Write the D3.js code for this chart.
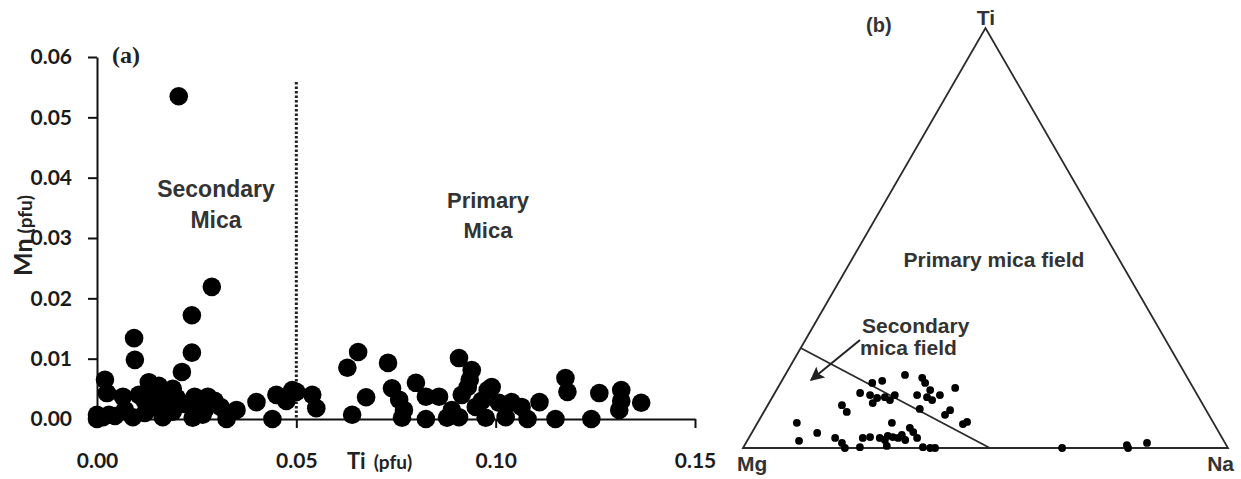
<!DOCTYPE html>
<html>
<head>
<meta charset="utf-8">
<script src="https://cdn.jsdelivr.net/npm/d3@7"></script>
<style>
body { margin: 0; background: #fff; }
svg { display: block; }
.tick text { font-family: Lato, "Open Sans", sans-serif; font-weight: bold; font-size: 21px; fill: #1a1a1a; }
.lbl { font-family: "Liberation Sans", Arial, sans-serif; font-weight: bold; fill: #333; }
</style>
</head>
<body>
<div id="chart"></div>
<script>
// panel (a): Ti vs Mn (pfu)
var tiA = [0.0205, 0.0288, 0.0238, 0.0238, 0.0213, 0.0093, 0.0095, 0.0020, 0.0025, 0.0065,
	0.0130, 0.0160, 0.0190, 0.0120, 0.0160, 0.0178, 0.0138, 0.0170, 0.0245, 0.0278,
	0.0295, 0.0253, 0.0000, 0.0000, 0.0030, 0.0045, 0.0090, 0.0165, 0.0240, 0.0265,
	0.0325, 0.0350, 0.0400, 0.0440, 0.0450, 0.0475, 0.0490, 0.0500, 0.0105, 0.0200,
	0.0145, 0.0070, 0.0120, 0.0190, 0.0220, 0.0155, 0.0180, 0.0270, 0.0310, 0.0015,
	0.0540, 0.0550, 0.0640, 0.0628, 0.0655, 0.0675, 0.0730, 0.0740, 0.0758, 0.0770,
	0.0765, 0.0800, 0.0825, 0.0825, 0.0858, 0.0890, 0.0878, 0.0908, 0.0940, 0.0915,
	0.0930, 0.0908, 0.0965, 0.0980, 0.0975, 0.0990, 0.1008, 0.1040, 0.1065, 0.1110,
	0.1080, 0.1025, 0.1175, 0.1180, 0.1150, 0.1260, 0.1240, 0.1315, 0.1310, 0.1315,
	0.1365, 0.0935, 0.0950];
var mnA = [0.0535, 0.0219, 0.0172, 0.0110, 0.0078, 0.0134, 0.0098, 0.0065, 0.0043, 0.0037,
	0.0061, 0.0048, 0.0050, 0.0030, 0.0030, 0.0030, 0.0020, 0.0020, 0.0037, 0.0037,
	0.0030, 0.0020, 0.0007, 0.0000, 0.0007, 0.0005, 0.0003, 0.0003, 0.0002, 0.0007,
	0.0000, 0.0015, 0.0028, 0.0000, 0.0040, 0.0030, 0.0048, 0.0045, 0.0040, 0.0035,
	0.0040, 0.0015, 0.0010, 0.0012, 0.0025, 0.0055, 0.0040, 0.0015, 0.0020, 0.0003,
	0.0040, 0.0018, 0.0007, 0.0085, 0.0111, 0.0036, 0.0093, 0.0051, 0.0032, 0.0015,
	0.0002, 0.0060, 0.0037, 0.0000, 0.0037, 0.0015, 0.0002, 0.0101, 0.0081, 0.0040,
	0.0053, 0.0003, 0.0030, 0.0048, 0.0002, 0.0053, 0.0027, 0.0028, 0.0020, 0.0028,
	0.0000, 0.0003, 0.0068, 0.0045, 0.0000, 0.0043, 0.0000, 0.0048, 0.0015, 0.0030,
	0.0027, 0.0065, 0.0020];
var xTicksA = [0, 0.05, 0.10, 0.15];
var yTicksA = [0, 0.01, 0.02, 0.03, 0.04, 0.05, 0.06];
var tiBoundary = 0.05;

// panel (b): ternary Mg - Ti - Na (fractions, Mg = 1 - Ti - Na)
var tiB = [0.174, 0.155, 0.160, 0.167, 0.155, 0.138, 0.121, 0.126, 0.126, 0.143,
	0.131, 0.126, 0.119, 0.121, 0.114, 0.126, 0.107, 0.114, 0.102, 0.086,
	0.093, 0.090, 0.079, 0.062, 0.057, 0.060, 0.060, 0.017, 0.036, 0.024,
	0.012, 0.000, 0.002, 0.024, 0.026, 0.019, 0.026, 0.024, 0.031, 0.005,
	0.048, 0.038, 0.024, 0.002, 0.000, 0.000, 0.000, 0.007, 0.000, 0.012,
	0.024, 0.029, 0.019];
var naB = [0.247, 0.189, 0.207, 0.286, 0.298, 0.317, 0.319, 0.296, 0.343, 0.366,
	0.176, 0.199, 0.217, 0.232, 0.246, 0.250, 0.214, 0.333, 0.153, 0.171,
	0.318, 0.382, 0.377, 0.431, 0.425, 0.081, 0.277, 0.107, 0.135, 0.178,
	0.198, 0.210, 0.240, 0.235, 0.249, 0.283, 0.296, 0.308, 0.312, 0.294,
	0.320, 0.332, 0.347, 0.370, 0.386, 0.396, 0.658, 0.788, 0.794, 0.827,
	0.270, 0.284, 0.325];
// secondary / primary field divider, as [Ti, Na]
var divider = [[0.238, 0], [0, 0.509]];
var corners = [[0, 0], [1, 0], [0, 1]]; // [Ti, Na]: Mg, Ti, Na corners

var svg = d3.select("#chart").append("svg")
	.attr("width", 1241)
	.attr("height", 479);

//////////////// panel (a)
var x = d3.scaleLinear().domain([0, 0.15]).range([97, 695]);
var y = d3.scaleLinear().domain([0, 0.06]).range([419, 57]);

var gA = svg.append("g");

gA.append("g")
	.attr("transform", "translate(0,419)")
	.call(d3.axisBottom(x).tickValues(xTicksA).tickFormat(d3.format(".2f")).tickSize(9).tickPadding(25).tickSizeOuter(0))
	.call(g => g.select(".domain").attr("stroke", "#111").attr("stroke-width", 2))
	.call(g => g.selectAll(".tick line").attr("stroke", "#111").attr("stroke-width", 2));

gA.append("g")
	.attr("transform", "translate(97,0)")
	.call(d3.axisLeft(y).tickValues(yTicksA).tickFormat(d3.format(".2f")).tickSize(9).tickPadding(16).tickSizeOuter(0))
	.call(g => g.select(".domain").attr("stroke", "#111").attr("stroke-width", 2))
	.call(g => g.selectAll(".tick line").attr("stroke", "#111").attr("stroke-width", 2));

// dotted boundary
gA.append("line")
	.attr("x1", x(tiBoundary)).attr("x2", x(tiBoundary))
	.attr("y1", 82).attr("y2", y(0))
	.attr("stroke", "#222")
	.attr("stroke-width", 3)
	.attr("stroke-dasharray", "2.5,2");

gA.selectAll("circle")
	.data(tiA)
	.enter()
	.append("circle")
	.attr("cx", (d, i) => x(d))
	.attr("cy", (d, i) => y(mnA[i]))
	.attr("r", 9.3)
	.attr("fill", "#000");

gA.append("text")
	.attr("x", 112).attr("y", 63)
	.style("font-family", "'Liberation Serif', 'DejaVu Serif', serif")
	.style("font-weight", "bold")
	.style("font-size", "24px")
	.attr("fill", "#222")
	.text("(a)");

var sec = gA.append("text").attr("class", "lbl").style("font-size", "23px").attr("text-anchor", "middle");
sec.append("tspan").attr("x", 216).attr("y", 197).text("Secondary");
sec.append("tspan").attr("x", 216).attr("y", 228).text("Mica");

var pri = gA.append("text").attr("class", "lbl").style("font-size", "22px").attr("text-anchor", "middle");
pri.append("tspan").attr("x", 488).attr("y", 208).text("Primary");
pri.append("tspan").attr("x", 488).attr("y", 238).text("Mica");

var xl = gA.append("text").attr("x", 347).attr("y", 469)
	.style("font-family", "Lato, sans-serif").style("font-weight", "bold").style("fill", "#222");
xl.append("tspan").style("font-size", "22px").text("Ti");
xl.append("tspan").attr("dx", 8).style("font-size", "19px").text("(pfu)");

var yl = gA.append("text")
	.attr("transform", "translate(32,276) rotate(-90)")
	.style("font-family", "Lato, sans-serif").style("font-weight", "bold").style("fill", "#222");
yl.append("tspan").style("font-size", "25px").text("Mn");
yl.append("tspan").attr("dx", 5).style("font-size", "19px").text("(pfu)");

//////////////// panel (b)
var bx = d3.scaleLinear().domain([0, 1]).range([743, 1228]);
var by = d3.scaleLinear().domain([0, 1]).range([448, 28]);
function proj(ti, na) {
	return [bx(na + ti / 2), by(ti)];
}

var gB = svg.append("g");

gB.append("path")
	.attr("d", d3.line()(corners.map(c => proj(c[0], c[1]))) + "Z")
	.attr("fill", "none")
	.attr("stroke", "#2a2a2a")
	.attr("stroke-width", 1.8);

gB.append("path")
	.attr("d", d3.line()(divider.map(c => proj(c[0], c[1]))))
	.attr("fill", "none")
	.attr("stroke", "#2a2a2a")
	.attr("stroke-width", 1.8);

gB.selectAll("circle")
	.data(tiB)
	.enter()
	.append("circle")
	.attr("cx", (d, i) => proj(d, naB[i])[0])
	.attr("cy", (d, i) => proj(d, naB[i])[1])
	.attr("r", 3.9)
	.attr("fill", "#000");

// arrow
svg.append("defs").append("marker")
	.attr("id", "ah")
	.attr("viewBox", "0 0 10 10")
	.attr("refX", 9).attr("refY", 5)
	.attr("markerWidth", 7).attr("markerHeight", 7)
	.attr("orient", "auto")
	.append("path")
	.attr("d", "M0,0L10,5L0,10L2,5Z")
	.attr("fill", "#222");

gB.append("line")
	.attr("x1", 860).attr("y1", 340)
	.attr("x2", 811).attr("y2", 380)
	.attr("stroke", "#222")
	.attr("stroke-width", 2)
	.attr("marker-end", "url(#ah)");

gB.append("text").attr("class", "lbl").style("font-size", "21px")
	.attr("x", 986).attr("y", 25).attr("text-anchor", "middle").text("Ti");
gB.append("text").attr("class", "lbl").style("font-size", "21px")
	.attr("x", 737).attr("y", 471).text("Mg");
gB.append("text").attr("class", "lbl").style("font-size", "21px")
	.attr("x", 1234).attr("y", 471).attr("text-anchor", "end").text("Na");
gB.append("text").attr("class", "lbl").style("font-size", "20px")
	.attr("x", 866).attr("y", 32).text("(b)");
gB.append("text").attr("class", "lbl").style("font-size", "21px")
	.attr("x", 994).attr("y", 267).attr("text-anchor", "middle").text("Primary mica field");

var smf = gB.append("text").attr("class", "lbl").style("font-size", "21px");
smf.append("tspan").attr("x", 862).attr("y", 333).text("Secondary");
smf.append("tspan").attr("x", 860).attr("y", 355).text("mica field");
</script>
</body>
</html>
